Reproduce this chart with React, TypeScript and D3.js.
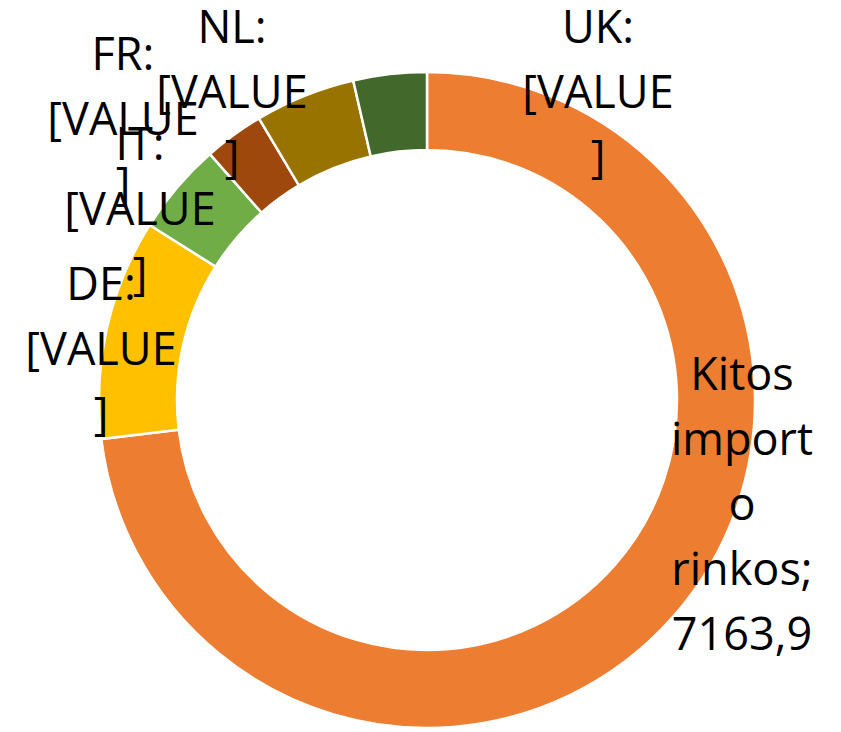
import React, { useRef, useEffect } from "react";
import * as d3 from "d3";

// slices clockwise from 12 o'clock
const categories = ["Kitos importo rinkos", "DE", "IT", "FR", "NL", "UK"];
const values = [7163.9, 1064, 444, 289, 485, 354];
const colors = ["#ED7D31", "#FFC000", "#70AD47", "#9E480E", "#997300", "#43682B"];
// data label lines as Excel wrapped them
const labelLines = [
  ["Kitos", "import", "o", "rinkos;", "7163,9"],
  ["DE:", "[VALUE", "]"],
  ["IT:", "[VALUE", "]"],
  ["FR:", "[VALUE", "]"],
  ["NL:", "[VALUE", "]"],
  ["UK:", "[VALUE", "]"],
];
// label anchor (centre x, first baseline y) after Excel's best-fit shuffle
const labelAnchors: [number, number][] = [
  [742, 390],
  [101, 300],
  [140, 160],
  [123, 70],
  [232, 43],
  [598, 43],
];

const W = 841;
const H = 732;

const App = () => {
  const ref = useRef<SVGSVGElement | null>(null);

  useEffect(() => {
    document.body.style.margin = "0";
    if (!ref.current) return;
    const svg = d3.select(ref.current);
    svg.selectAll("*").remove();

    const cx = 427;
    const cy = 400;
    const outer = 328;
    const inner = 250;

    const pie = d3
      .pie<number>()
      .sort(null)
      .value((d) => d);
    const arc = d3
      .arc<d3.PieArcDatum<number>>()
      .innerRadius(inner)
      .outerRadius(outer);

    const g = svg.append("g").attr("transform", `translate(${cx},${cy})`);

    g.selectAll("path")
      .data(pie(values))
      .enter()
      .append("path")
      .attr("d", arc)
      .attr("fill", (_, i) => colors[i])
      .attr("stroke", "#FFFFFF")
      .attr("stroke-width", 2.5)
      .append("title")
      .text((d, i) => `${categories[i]}: ${d.data}`);

    // labels
    const lineH = 65;
    labelLines.forEach((lines, i) => {
      const [lx, ly] = labelAnchors[i];
      const t = svg
        .append("text")
        .attr("text-anchor", "middle")
        .attr("font-family", "'Open Sans', sans-serif")
        .attr("font-size", 45)
        .attr("fill", "#000000");
      lines.forEach((s, j) => {
        t.append("tspan")
          .attr("x", lx)
          .attr("y", ly + j * lineH)
          .text(s);
      });
    });
  }, []);

  return (
    <svg
      ref={ref}
      width={W}
      height={H}
      style={{ display: "block", background: "#FFFFFF" }}
    />
  );
};

export default App;
